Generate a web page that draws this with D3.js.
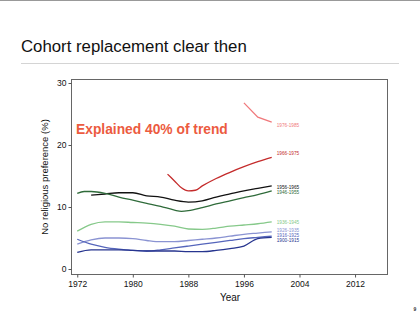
<!DOCTYPE html>
<html><head><meta charset="utf-8">
<script src="https://cdn.jsdelivr.net/npm/d3@7"></script>
<style>body{margin:0;background:#fff}svg{display:block;font-family:"Liberation Sans",Arial,sans-serif}</style>
</head><body><svg id="c" width="420" height="323"></svg>
<script>
const cohorts = ["1976-1985","1966-1975","1956-1965","1946-1955","1936-1945","1926-1935","1916-1925","1900-1915"];
const colors = ["#f0797c","#c42b2b","#111111","#2f6b3a","#86c98a","#8a93d2","#5565bb","#27358f"];
const years1976 = [1996,1998,2000];
const vals1976 = [26.8,24.5,23.7];
const years1966 = [1985,1986,1987,1988,1989,1990,1992,1994,1996,1998,2000];
const vals1966 = [15.3,14.2,13.1,12.6,12.7,13.4,14.6,15.6,16.5,17.3,18.0];
const years1956 = [1974,1976,1978,1980,1982,1984,1986,1988,1990,1992,1994,1996,1998,2000];
const vals1956 = [11.9,12.1,12.3,12.3,11.8,11.6,11.1,10.8,11.0,11.6,12.1,12.6,13.0,13.4];
const years1946 = [1972,1973,1974,1976,1978,1980,1982,1984,1986,1987,1988,1990,1992,1994,1996,1998,2000];
const vals1946 = [12.2,12.5,12.5,12.2,11.6,11.1,10.6,10.1,9.5,9.3,9.4,9.9,10.5,11.0,11.5,12.0,12.6];
const yearsStd = [1972,1974,1976,1978,1980,1982,1984,1986,1988,1990,1992,1994,1996,1998,2000];
const vals1936 = [6.1,7.2,7.6,7.6,7.5,7.4,7.2,6.9,6.45,6.4,6.6,6.9,7.1,7.3,7.6];
const vals1926 = [4.0,4.7,5.0,5.0,4.9,4.6,4.4,4.4,4.6,4.8,5.0,5.3,5.6,5.8,6.0];
const vals1916 = [4.8,4.0,3.5,3.2,3.0,2.9,3.1,3.4,3.7,4.0,4.3,4.6,4.9,5.1,5.3];
const vals1900 = [2.7,3.1,3.1,3.1,3.0,2.9,2.9,2.9,2.8,2.8,3.0,3.3,3.7,4.9,5.1];
const labelVals = [23.1,18.6,13.2,12.4,7.5,6.25,5.45,4.65];
const xTicks = [1972,1980,1988,1996,2004,2012];
const yTicks = [0,10,20,30];

const seriesYears = [years1976,years1966,years1956,years1946,yearsStd,yearsStd,yearsStd,yearsStd];
const seriesVals = [vals1976,vals1966,vals1956,vals1946,vals1936,vals1926,vals1916,vals1900];

const svg = d3.select("#c");
svg.append("line").attr("x1",0).attr("x2",420).attr("y1",0.5).attr("y2",0.5).attr("stroke","#999").attr("stroke-width",1);
svg.append("text").attr("x",21).attr("y",52).attr("font-size",16.8).attr("fill","#111").text("Cohort replacement clear then");
svg.append("line").attr("x1",21).attr("x2",399).attr("y1",63.5).attr("y2",63.5).attr("stroke","#d4d4d4").attr("stroke-width",1.2);

const L=71, R=387, T=79, B=274;
const x = d3.scaleLinear().domain([1971.1,2016.6]).range([L,R]);
const y = d3.scaleLinear().domain([0,30]).range([269,83]);

svg.append("rect").attr("x",L+0.5).attr("y",T+0.5).attr("width",R-L).attr("height",B-T).attr("fill","none").attr("stroke","#666").attr("stroke-width",1);

const xa = svg.append("g").attr("transform",`translate(0,${B+0.5})`)
  .call(d3.axisBottom(x).tickValues(xTicks).tickSize(3).tickPadding(3).tickFormat(d3.format("d")));
const ya = svg.append("g").attr("transform",`translate(${L+0.5},0)`)
  .call(d3.axisLeft(y).tickValues(yTicks).tickSize(3).tickPadding(2));
[xa,ya].forEach(a=>{a.select(".domain").remove();a.selectAll("line").attr("stroke","#555");a.selectAll("text").attr("font-size",8.5).attr("fill","#111").attr("font-family","'Liberation Sans',Arial,sans-serif");});

svg.append("text").attr("x",230).attr("y",301).attr("text-anchor","middle").attr("font-size",10).attr("fill","#111").text("Year");
svg.append("text").attr("transform","translate(48,177) rotate(-90)").attr("text-anchor","middle").attr("font-size",9.5).attr("fill","#111").text("No religious preference (%)");

svg.append("text").attr("x",76).attr("y",134).attr("font-size",13.8).attr("font-weight","bold").attr("fill","#ec5b3f").text("Explained 40% of trend");

seriesVals.forEach((vals,i)=>{
  const pts = vals.map((v,j)=>[seriesYears[i][j],v]);
  const line = d3.line().x(d=>x(d[0])).y(d=>y(d[1])).curve(i===0?d3.curveLinear:d3.curveMonotoneX);
  svg.append("path").attr("d",line(pts)).attr("fill","none").attr("stroke",colors[i]).attr("stroke-width",1.3);
  svg.append("text").attr("x",x(2000)+5).attr("y",y(labelVals[i])+1.7).attr("font-size",4.7).attr("fill",colors[i]).text(cohorts[i]);
});

svg.append("text").attr("x",415).attr("y",311).attr("text-anchor","middle").attr("font-size",5).attr("font-weight","bold").attr("fill","#333").text("9");
</script></body></html>
